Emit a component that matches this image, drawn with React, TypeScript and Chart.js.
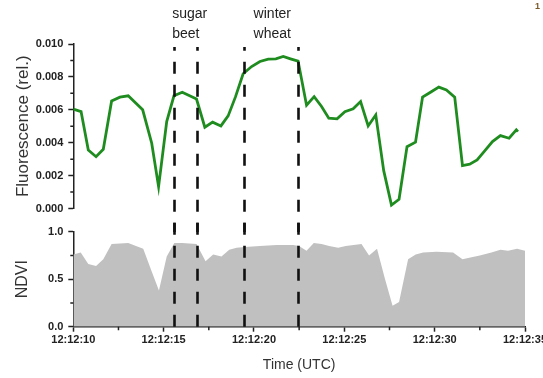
import React, { useEffect, useRef } from 'react';
import { Chart, registerables } from 'chart.js';

Chart.register(...registerables);

// ---- data ----
// time in seconds after 12:12:00 UTC
const fluorTime = [
  10.0, 10.43, 10.83, 11.26, 11.66, 12.12, 12.58, 13.04, 13.84, 14.34, 14.72, 15.17, 15.57, 16.03,
  16.82, 17.28, 17.71, 18.17, 18.57, 18.98, 19.4, 19.87, 20.33, 20.79, 21.21, 21.62, 22.02, 22.44,
  22.91, 23.33, 23.74, 24.14, 24.6, 25.03, 25.49, 25.9, 26.32, 26.74, 27.18, 27.61, 28.03, 28.47,
  28.94, 29.33, 29.77, 30.23, 30.65, 31.11, 31.54, 31.94, 32.35, 32.77, 33.2, 33.64, 34.12, 34.52, 34.61,
];
// fluorescence (rel.) in units of 0.001
const fluorValues = [
  6.04, 5.89, 3.56, 3.15, 3.6, 6.54, 6.77, 6.85, 6.0, 3.97, 1.33, 5.28, 6.85, 7.07,
  6.65, 4.94, 5.25, 5.02, 5.63, 6.8, 8.19, 8.63, 8.94, 9.08, 9.1, 9.24, 9.1, 8.96,
  6.28, 6.8, 6.2, 5.49, 5.45, 5.89, 6.06, 6.5, 5.02, 5.69, 2.3, 0.21, 0.56, 3.76,
  4.03, 6.77, 7.07, 7.38, 7.21, 6.77, 2.61, 2.69, 2.95, 3.5, 4.07, 4.43, 4.27, 4.78, 4.67,
];
const ndviTime = [
  10.0, 10.41, 10.83, 11.26, 11.66, 12.12, 13.04, 13.47, 13.87, 14.34, 14.74, 15.17, 15.59, 16.03,
  16.82, 17.32, 17.74, 18.2, 18.63, 19.04, 19.5, 20.33, 21.25, 22.17, 22.49, 22.91, 23.31, 23.74,
  24.16, 24.66, 25.08, 25.95, 26.37, 26.81, 27.24, 27.67, 28.03, 28.53, 28.95, 29.36, 30.1, 31.02,
  31.54, 32.04, 32.5, 33.14, 33.64, 34.06, 34.56, 35.0,
];
const ndviValues = [
  0.76, 0.78, 0.66, 0.64, 0.71, 0.87, 0.88, 0.85, 0.82, 0.58, 0.38, 0.74, 0.88, 0.88,
  0.87, 0.69, 0.76, 0.74, 0.81, 0.83, 0.84, 0.85, 0.86, 0.86, 0.85, 0.8, 0.88, 0.87,
  0.85, 0.83, 0.85, 0.87, 0.75, 0.82, 0.51, 0.22, 0.26, 0.71, 0.76, 0.78, 0.79, 0.78,
  0.71, 0.73, 0.75, 0.78, 0.81, 0.8, 0.82, 0.8,
];
const markerTimes = [15.59, 16.85, 19.45, 22.45];
const cropLabelLines = [['sugar', 'beet'], ['winter', 'wheat']];
const cropLabelTimes = [15.47, 19.98];

const timePrefix = '12:12:';
const xTickValues = [10, 15, 20, 25, 30, 35];
const xMinorValues = [12.5, 17.5, 22.5, 27.5, 32.5];
const fluorTickValues = [0, 0.002, 0.004, 0.006, 0.008, 0.01];
const fluorMinorValues = [0.001, 0.003, 0.005, 0.007, 0.009];
const ndviTickValues = [0, 0.5, 1.0];
const ndviMinorValues = [0.25, 0.75];

// ---- style ----
const GREEN = '#1f8c1f';
const GREY = '#c0c0c0';
const AXIS = '#222';
const FONT = "'Liberation Sans', Arial, Helvetica, sans-serif";
const CANVAS_W = 560;
const TOP_H = 232;
const BOT_TOP = 220;
const BOT_H = 158;
const AXIS_LEFT = 73.3;
const MARK_TOP = 47; // page px
const MARK_BOTTOM = 326.7; // page px

Chart.defaults.font.family = FONT;

function overlayPlugin(offsetY: number, minor: { x?: number[]; y: number[] }, withLabels: boolean) {
  return {
    id: 'overlay' + offsetY,
    afterDraw(chart: any) {
      const ctx = chart.ctx as CanvasRenderingContext2D;
      const xs = chart.scales.x;
      const ys = chart.scales.y;
      ctx.save();
      // minor ticks
      ctx.strokeStyle = AXIS;
      ctx.lineWidth = 1.5;
      ctx.beginPath();
      minor.y.forEach((v) => {
        const py = ys.getPixelForValue(v);
        ctx.moveTo(ys.right, py);
        ctx.lineTo(ys.right - 3, py);
      });
      (minor.x || []).forEach((v) => {
        const px = xs.getPixelForValue(v);
        ctx.moveTo(px, xs.top);
        ctx.lineTo(px, xs.top + 3.5);
      });
      ctx.stroke();
      // dashed markers
      ctx.strokeStyle = '#111';
      ctx.lineWidth = 2.6;
      ctx.setLineDash([12, 11]);
      markerTimes.forEach((t) => {
        const px = Math.round(xs.getPixelForValue(t)) + 0.5;
        ctx.beginPath();
        ctx.moveTo(px, MARK_BOTTOM - offsetY);
        ctx.lineTo(px, MARK_TOP - offsetY);
        ctx.stroke();
      });
      ctx.setLineDash([]);
      if (withLabels) {
        ctx.fillStyle = '#222';
        ctx.font = '14px ' + FONT;
        ctx.textAlign = 'left';
        ctx.textBaseline = 'alphabetic';
        cropLabelLines.forEach((lines, i) => {
          const px = xs.getPixelForValue(cropLabelTimes[i]);
          lines.forEach((txt, j) => ctx.fillText(txt, px, 17.5 + j * 20.5));
        });
        ctx.font = 'bold 9px ' + FONT;
        ctx.fillStyle = '#7a5a2a';
        ctx.fillText('1', 535, 9);
      }
      ctx.restore();
    },
  };
}

const tickFont = { size: 11, weight: 'bold' as const };
const gridOpts = {
  display: true,
  drawOnChartArea: false,
  drawTicks: true,
  tickLength: 5,
  tickColor: AXIS,
  tickWidth: 1.5,
};
const borderOpts = { display: true, color: AXIS, width: 1.5 };

export default function App() {
  const topRef = useRef<HTMLCanvasElement>(null);
  const botRef = useRef<HTMLCanvasElement>(null);

  useEffect(() => {
    const top = new Chart(topRef.current!, {
      type: 'line',
      data: {
        datasets: [
          {
            data: fluorTime.map((t, i) => ({ x: t, y: fluorValues[i] / 1000 })),
            borderColor: GREEN,
            borderWidth: 2.8,
            pointRadius: 0,
            tension: 0,
            fill: false,
          },
        ],
      },
      options: {
        responsive: false,
        animation: false,
        layout: { padding: { left: 0, right: CANVAS_W - 525, top: 44, bottom: TOP_H - 208.5 } },
        plugins: { legend: { display: false }, tooltip: { enabled: false } },
        scales: {
          x: { type: 'linear', display: false, min: 10, max: 35 },
          y: {
            type: 'linear',
            min: 0,
            max: 0.01,
            afterFit: (s: any) => {
              s.width = AXIS_LEFT;
            },
            afterBuildTicks: (s: any) => {
              s.ticks = fluorTickValues.map((v) => ({ value: v }));
            },
            ticks: {
              callback: (v: any) => Number(v).toFixed(3),
              font: tickFont,
              color: AXIS,
              padding: 5,
            },
            grid: gridOpts,
            border: borderOpts,
            title: {
              display: true,
              text: 'Fluorescence (rel.)',
              font: { size: 17 },
              color: '#333',
              padding: { top: 13, bottom: 0 },
            },
          },
        },
      },
      plugins: [overlayPlugin(0, { y: fluorMinorValues }, true)],
    } as any);

    const bot = new Chart(botRef.current!, {
      type: 'line',
      data: {
        datasets: [
          {
            data: ndviTime.map((t, i) => ({ x: t, y: ndviValues[i] })),
            borderColor: 'rgba(0,0,0,0)',
            backgroundColor: GREY,
            borderWidth: 0,
            pointRadius: 0,
            tension: 0,
            fill: 'origin',
          },
        ],
      },
      options: {
        responsive: false,
        animation: false,
        layout: { padding: { left: 0, right: CANVAS_W - 525, top: 231.7 - BOT_TOP, bottom: 0 } },
        plugins: { legend: { display: false }, tooltip: { enabled: false } },
        scales: {
          x: {
            type: 'linear',
            min: 10,
            max: 35,
            afterFit: (s: any) => {
              s.height = BOT_TOP + BOT_H - MARK_BOTTOM;
            },
            afterBuildTicks: (s: any) => {
              s.ticks = xTickValues.map((v) => ({ value: v }));
            },
            ticks: {
              callback: (v: any) => timePrefix + String(v).padStart(2, '0'),
              font: tickFont,
              color: AXIS,
              padding: 2,
              maxRotation: 0,
              autoSkip: false,
            },
            grid: gridOpts,
            border: borderOpts,
            title: {
              display: true,
              text: 'Time (UTC)',
              font: { size: 14 },
              color: '#333',
              padding: { top: 0, bottom: 4.6 },
            },
          },
          y: {
            type: 'linear',
            min: 0,
            max: 1,
            afterFit: (s: any) => {
              s.width = AXIS_LEFT;
            },
            afterBuildTicks: (s: any) => {
              s.ticks = ndviTickValues.map((v) => ({ value: v }));
            },
            ticks: {
              callback: (v: any) => Number(v).toFixed(1),
              font: tickFont,
              color: AXIS,
              padding: 5,
            },
            grid: gridOpts,
            border: borderOpts,
            title: {
              display: true,
              text: 'NDVI',
              font: { size: 16 },
              color: '#333',
              padding: { top: 13, bottom: 0 },
            },
          },
        },
      },
      plugins: [overlayPlugin(BOT_TOP, { x: xMinorValues, y: ndviMinorValues }, false)],
    } as any);

    return () => {
      top.destroy();
      bot.destroy();
    };
  }, []);

  return (
    <div
      style={{
        position: 'fixed',
        left: 0,
        top: 0,
        width: 543,
        height: 378,
        overflow: 'hidden',
        background: '#fff',
      }}
    >
      <canvas
        ref={topRef}
        width={CANVAS_W}
        height={TOP_H}
        style={{ position: 'absolute', left: 0, top: 0, width: CANVAS_W, height: TOP_H }}
      />
      <canvas
        ref={botRef}
        width={CANVAS_W}
        height={BOT_H}
        style={{ position: 'absolute', left: 0, top: BOT_TOP, width: CANVAS_W, height: BOT_H }}
      />
    </div>
  );
}
